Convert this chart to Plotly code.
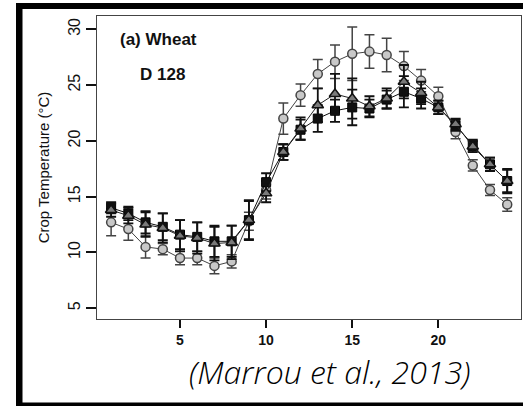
import plotly.graph_objects as go

hours = list(range(1, 25))

circle_temp = [12.7, 12.1, 10.5, 10.3, 9.5, 9.5, 8.8, 9.2, 12.8, 15.6, 22.0, 24.1,
               26.0, 27.1, 27.8, 28.0, 27.7, 26.7, 25.4, 24.0, 20.8, 17.8, 15.6, 14.3]
circle_err = [1.2, 1.0, 1.0, 0.5, 0.6, 0.6, 0.7, 0.6, 0.8, 0.8, 1.4, 1.0,
              1.3, 1.5, 2.4, 1.5, 1.5, 1.3, 1.0, 0.8, 0.6, 0.5, 0.5, 0.6]

triangle_temp = [13.8, 13.3, 12.5, 12.2, 11.5, 11.3, 10.8, 10.9, 12.9, 15.3, 19.0, 21.1,
                 23.2, 24.2, 23.8, 23.1, 23.8, 25.3, 24.3, 23.0, 21.5, 19.5, 17.9, 16.4]
triangle_err = [0.6, 0.7, 1.1, 1.3, 1.4, 1.4, 1.5, 1.5, 1.8, 0.8, 0.7, 1.0,
                1.5, 1.8, 1.8, 0.9, 0.9, 1.5, 1.0, 0.6, 0.5, 0.5, 0.6, 1.0]

square_temp = [14.0, 13.5, 12.7, 12.3, 11.6, 11.4, 11.0, 11.0, 12.9, 16.3, 19.0, 21.0,
               22.0, 22.7, 23.0, 22.9, 23.7, 24.4, 23.8, 23.0, 21.4, 19.6, 17.9, 16.4]
square_err = [0.5, 0.6, 1.0, 1.2, 1.3, 1.3, 1.4, 1.4, 1.7, 0.8, 0.7, 0.9,
              1.2, 1.0, 1.6, 0.8, 0.8, 1.4, 0.9, 0.6, 0.5, 0.5, 0.6, 1.1]

x_ticks = [5, 10, 15, 20]
y_ticks = [5, 10, 15, 20, 25, 30]

FONT = "Liberation Sans, Arial, sans-serif"

fig = go.Figure()

fig.add_trace(go.Scatter(
    x=hours, y=circle_temp, mode="lines+markers",
    line=dict(color="#444444", width=1),
    marker=dict(symbol="circle", size=9, color="#c8c8c8", line=dict(color="#444444", width=1.5)),
    error_y=dict(type="data", array=circle_err, color="#444444", thickness=1.5, width=5),
    showlegend=False))

fig.add_trace(go.Scatter(
    x=hours, y=square_temp, mode="lines+markers",
    line=dict(color="#111111", width=1),
    marker=dict(symbol="square", size=9, color="#111111", line=dict(color="#000000", width=1)),
    error_y=dict(type="data", array=square_err, color="#111111", thickness=1.8, width=5),
    showlegend=False))

fig.add_trace(go.Scatter(
    x=hours, y=triangle_temp, mode="lines+markers",
    line=dict(color="#222222", width=1),
    marker=dict(symbol="triangle-up", size=10, color="#7a7a7a", line=dict(color="#111111", width=1.5)),
    error_y=dict(type="data", array=triangle_err, color="#111111", thickness=1.8, width=5),
    showlegend=False))

fig.update_xaxes(
    range=[0.18, 24.8], tickvals=x_ticks, ticks="outside", ticklen=8, tickwidth=1.5,
    tickcolor="#111111", showline=True, mirror=True, linecolor="#444444", linewidth=1,
    showgrid=False, zeroline=False,
    tickfont=dict(family=FONT, size=14, color="#111111", weight="bold"))

fig.update_yaxes(
    range=[4.04, 31.19], tickvals=y_ticks, ticks="outside", ticklen=10, tickwidth=1.5,
    tickcolor="#111111", showline=True, mirror=True, linecolor="#444444", linewidth=1,
    showgrid=False, zeroline=False, tickangle=-90,
    tickfont=dict(family=FONT, size=16, color="#111111"),
    title=dict(text="Crop Temperature (°C)", font=dict(family=FONT, size=15, color="#111111"),
               standoff=12))

# Outer black frame (paper coords relative to plot area 97..521 x 16..319)
def px_x(p):
    return (p - 97) / 424.0

def px_y(p):
    return (319 - p) / 303.0

shapes = [
    dict(type="rect", xref="paper", yref="paper", x0=px_x(16), x1=px_x(22.5),
         y0=px_y(406), y1=px_y(3), fillcolor="black", line=dict(width=0)),
    dict(type="rect", xref="paper", yref="paper", x0=px_x(16), x1=px_x(530),
         y0=px_y(9), y1=px_y(3), fillcolor="black", line=dict(width=0)),
    dict(type="rect", xref="paper", yref="paper", x0=px_x(16), x1=px_x(530),
         y0=px_y(407), y1=px_y(402.5), fillcolor="black", line=dict(width=0)),
]

annotations = [
    dict(text="<b>(a) Wheat</b>", xref="paper", yref="paper", x=px_x(118), y=px_y(40),
         xanchor="left", yanchor="middle", showarrow=False,
         font=dict(family=FONT, size=17, color="#111111")),
    dict(text="<b>D 128</b>", xref="paper", yref="paper", x=px_x(138), y=px_y(74),
         xanchor="left", yanchor="middle", showarrow=False,
         font=dict(family=FONT, size=17, color="#111111")),
    dict(text="(Marrou et al., 2013)", xref="paper", yref="paper", x=px_x(329), y=px_y(348),
         xanchor="center", yanchor="top", showarrow=False,
         font=dict(family="Open Sans, sans-serif", size=32, color="#000000",
                   style="italic", weight=300)),
]

fig.update_layout(
    width=523, height=406,
    margin=dict(l=97, r=2, t=16, b=87),
    paper_bgcolor="white", plot_bgcolor="white",
    shapes=shapes, annotations=annotations)

fig.write_html("out.html")
